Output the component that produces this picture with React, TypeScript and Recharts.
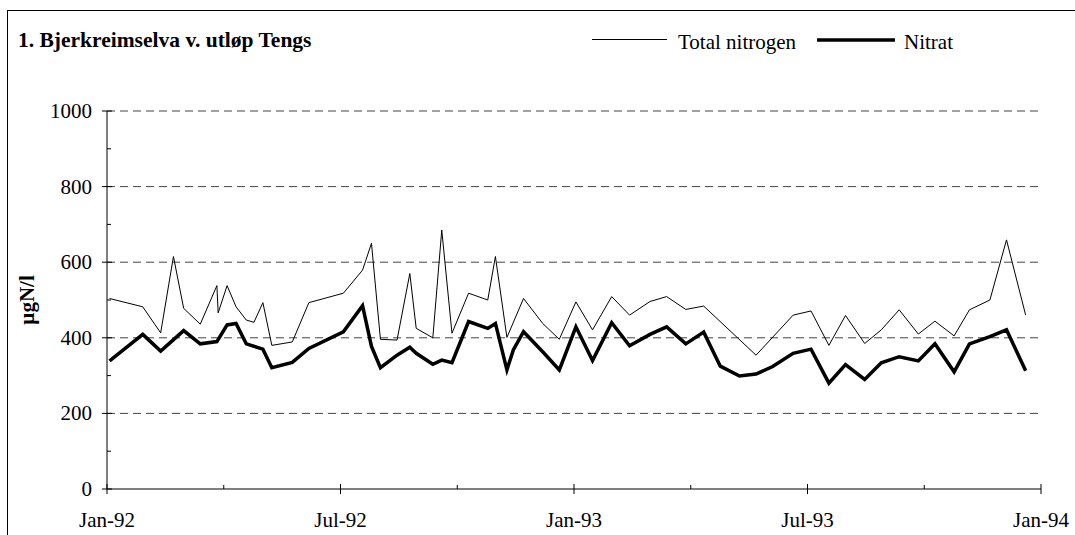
import React from 'react';
import {
  LineChart,
  Line,
  XAxis,
  YAxis,
  ReferenceLine,
  Customized,
} from 'recharts';

// sample dates as days since 1 Jan 1992
const sampleDays = [
  2, 28, 42, 52, 60, 73, 86, 87, 94, 101, 109, 115, 122, 129, 145, 158, 185, 200,
  207, 214, 227, 237, 242, 255, 262, 270, 283, 298, 304, 313, 318, 326, 341, 354,
  367, 380, 395, 409, 425, 438, 453, 467, 480, 495, 508, 521, 537, 551, 565, 578,
  593, 606, 620, 635, 648, 663, 675, 691, 704, 719,
];

const totalNitrogen = [
  504, 482, 413, 615, 478, 436, 538, 466, 538, 482, 447, 441, 493, 380, 389, 493, 518, 579,
  650, 396, 394, 570, 425, 400, 685, 412, 518, 500, 615, 401, null, 504, 438, 396,
  495, 421, 509, 460, 496, 509, 475, 484, null, null, 354, null, 460, 471, 380, 459,
  385, 421, 474, 410, 444, 405, 474, 500, 659, 460,
];

const nitrate = [
  339, 409, 365, null, 419, 384, 390, null, 434, 438, 384, null, 370, 321, 335, 372, 416, 485,
  377, 321, 354, 375, 359, 330, 341, 334, 443, 425, 438, 315, 368, 416, 363, 315,
  429, 340, 440, 379, 409, 429, 384, 415, 325, 299, 304, 324, 359, 370, 280, 329,
  290, 334, 350, 339, 384, 310, 384, 403, 421, 313,
];

const xTicks = [0, 91.375, 182.75, 274.125, 365.5, 456.875, 548.25, 639.625, 731];
const xTickLabels = ['Jan-92', '', 'Jul-92', '', 'Jan-93', '', 'Jul-93', '', 'Jan-94'];
const yTicks = [0, 100, 200, 300, 400, 500, 600, 700, 800, 900, 1000];
const gridLevels = [200, 400, 600, 800, 1000];

const data = sampleDays.map((day, i) => ({
  day,
  total: totalNitrogen[i],
  nitrate: nitrate[i],
}));

const FONT = '"Liberation Serif", "Times New Roman", serif';

const XTick = (props: any) => {
  const { x, y, index } = props;
  const label = xTickLabels[index];
  if (!label) {
    return <line x1={x} x2={x} y1={y - 4} y2={y} stroke="#000" />;
  }
  return (
    <g>
      <line x1={x} x2={x} y1={y - 5} y2={y + 5} stroke="#000" />
      <text x={x} y={y + 38} textAnchor="middle" fontFamily={FONT} fontSize={21} fill="#000">
        {label}
      </text>
    </g>
  );
};

const YTick = (props: any) => {
  const { x, y, payload } = props;
  if (payload.value % 200 !== 0) {
    return <line x1={x} x2={x + 4} y1={y} y2={y} stroke="#000" />;
  }
  return (
    <g>
      <line x1={x - 5} x2={x + 5} y1={y} y2={y} stroke="#000" />
      <text x={x - 15} y={y + 7} textAnchor="end" fontFamily={FONT} fontSize={21} fill="#000">
        {payload.value}
      </text>
    </g>
  );
};

const Frame = () => (
  <rect x={7.5} y={10.5} width={1100} height={600} fill="none" stroke="#000" />
);

const Header = () => (
  <g fontFamily={FONT} fill="#000">
    <text x={18} y={47} fontSize={21.5} fontWeight="bold">
      1. Bjerkreimselva v. utløp Tengs
    </text>
    <line x1={592} x2={667} y1={39.5} y2={39.5} stroke="#000" strokeWidth={1} />
    <text x={678} y={49} fontSize={21}>Total nitrogen</text>
    <line x1={817} x2={895} y1={40} y2={40} stroke="#000" strokeWidth={3.5} />
    <text x={904} y={49} fontSize={21}>Nitrat</text>
    <text
      x={34}
      y={300}
      fontSize={21}
      fontWeight="bold"
      textAnchor="middle"
      transform="rotate(-90 34 300)"
    >
      µgN/l
    </text>
  </g>
);

export default function App() {
  return (
    <div
      style={{
        position: 'absolute',
        left: 0,
        top: 0,
        width: 1075,
        height: 535,
        overflow: 'hidden',
        background: '#fff',
      }}
    >
      <LineChart
        width={1075}
        height={535}
        data={data}
        margin={{ top: 111, right: 34, bottom: 45, left: 106 }}
      >
        <Customized component={<Frame />} />
        {gridLevels.map((v) => (
          <ReferenceLine key={v} y={v} stroke="#444" strokeDasharray="8 5" />
        ))}
        <XAxis
          dataKey="day"
          type="number"
          domain={[0, 731]}
          ticks={xTicks}
          height={1}
          tickSize={0}
          tickMargin={0}
          tickLine={false}
          tick={<XTick />}
          interval={0}
          axisLine={{ stroke: '#000' }}
        />
        <YAxis
          type="number"
          domain={[0, 1000]}
          ticks={yTicks}
          width={1}
          tickSize={0}
          tickMargin={0}
          tickLine={false}
          tick={<YTick />}
          interval={0}
          axisLine={{ stroke: '#000' }}
        />
        <Line
          type="linear"
          dataKey="total"
          stroke="#000"
          strokeWidth={1}
          dot={false}
          connectNulls
          isAnimationActive={false}
        />
        <Line
          type="linear"
          dataKey="nitrate"
          stroke="#000"
          strokeWidth={3.5}
          dot={false}
          connectNulls
          isAnimationActive={false}
        />
        <Customized component={<Header />} />
      </LineChart>
    </div>
  );
}
